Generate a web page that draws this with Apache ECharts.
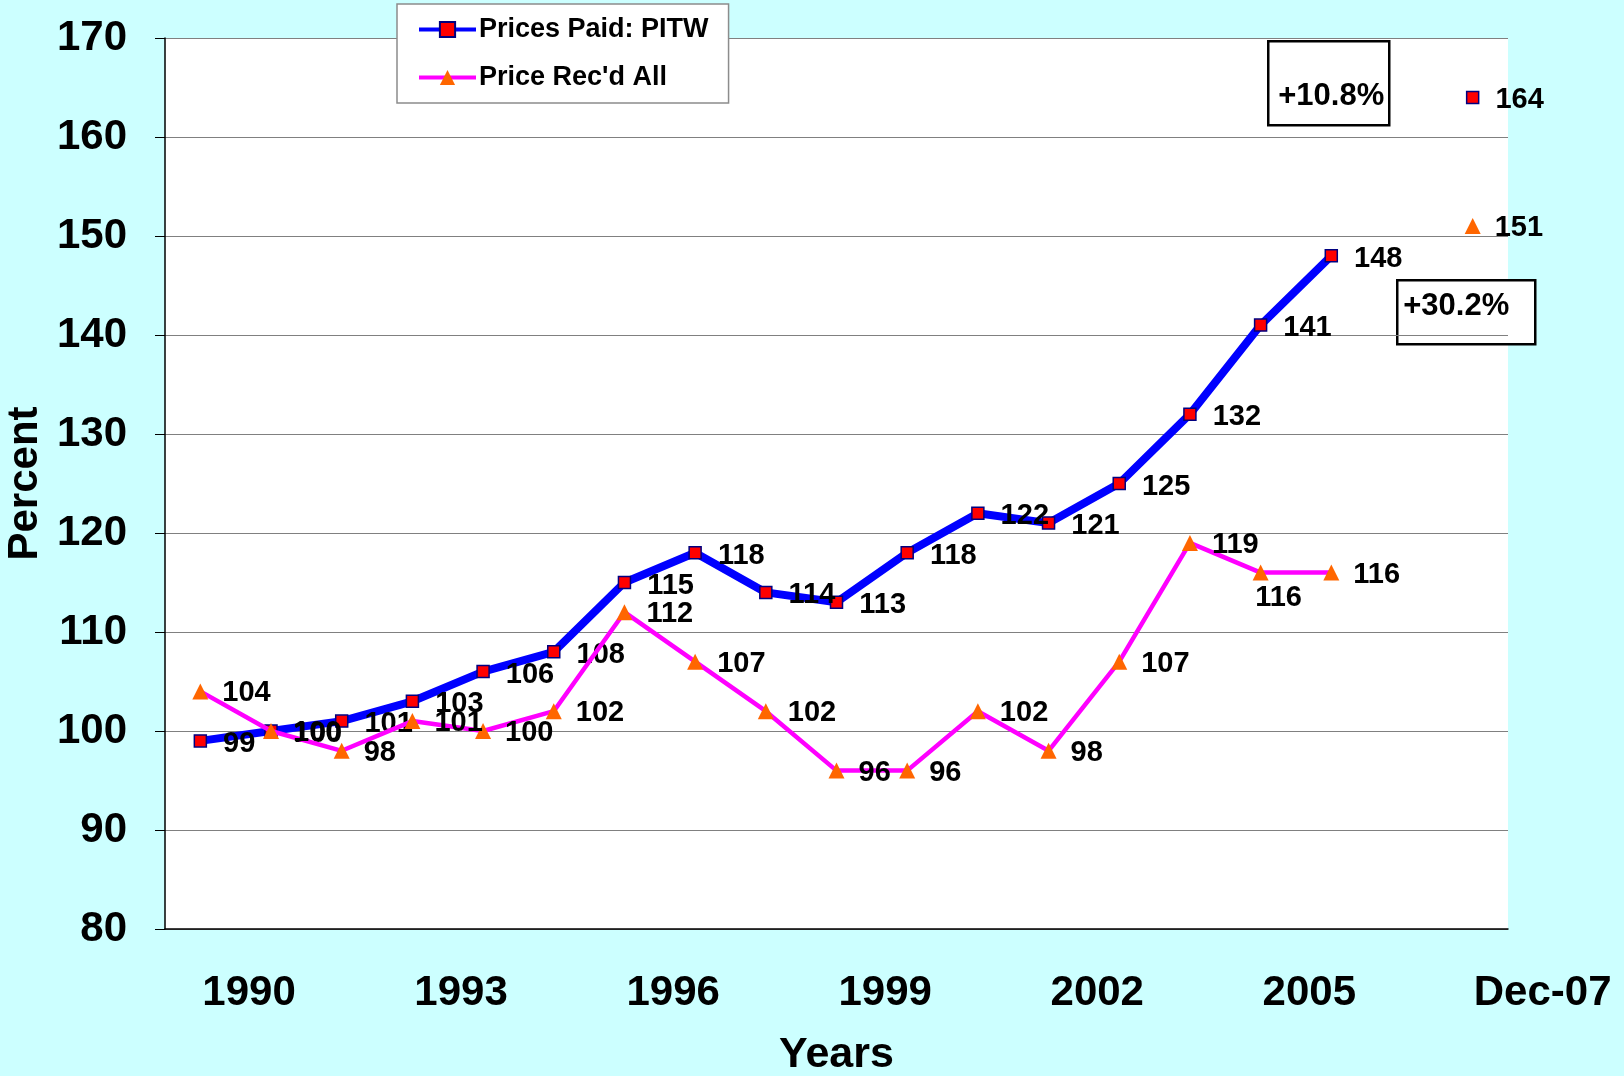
<!DOCTYPE html>
<html>
<head>
<meta charset="utf-8">
<script src="https://cdn.jsdelivr.net/npm/echarts@6/dist/echarts.min.js"></script>
<style>
  html, body { margin: 0; padding: 0; background: #ccffff; }
  #chart { width: 1624px; height: 1076px; }
</style>
</head>
<body>
<div id="chart"></div>
<script>
  // categories (2006 has no value, Dec-07 is the last point)
  var years = ['1989', '1990', '1991', '1992', '1993', '1994', '1995', '1996', '1997', '1998',
               '1999', '2000', '2001', '2002', '2003', '2004', '2005', '2006', 'Dec-07'];
  var pricesPaid = [99, 100, 101, 103, 106, 108, 115, 118, 114, 113, 118, 122, 121, 125, 132, 141, 148, null, 164];
  var pricesRecd = [104, 100, 98, 101, 100, 102, 112, 107, 102, 96, 96, 102, 98, 107, 119, 116, 116, null, 151];
  var shownLabels = [1, 4, 7, 10, 13, 16, 18];
  var yTicks = { min: 80, max: 170, step: 10 };

  var font = '"Liberation Sans", Arial, sans-serif';
  var chart = echarts.init(document.getElementById('chart'));

  // the 2004 received value has its label under the point
  var recdData = pricesRecd.map(function (v, i) {
    if (i === 15) {
      return { value: v, label: { position: 'bottom', distance: 3, offset: [18, 0] } };
    }
    return v;
  });

  var option = {
    backgroundColor: '#ccffff',
    animation: false,
    textStyle: { fontFamily: font },
    grid: {
      left: 165, right: 116, top: 38, bottom: 147,
      show: true, backgroundColor: '#ffffff', borderWidth: 0,
      outerBoundsMode: 'none'
    },
    legend: {
      orient: 'vertical',
      left: 397, top: 4,
      padding: [12, 20, 12, 20],
      itemGap: 21,
      itemWidth: 57, itemHeight: 19,
      backgroundColor: '#ffffff',
      borderColor: '#8c8c8c', borderWidth: 1.5,
      textStyle: { fontSize: 27, fontWeight: 'bold', color: '#000', lineHeight: 26,
                   fontFamily: font, padding: [0, 0, 0, -2] },
      data: [
        { name: 'Prices Paid: PITW', lineStyle: { width: 4 } },
        { name: "Price Rec'd All", lineStyle: { width: 4 } }
      ]
    },
    xAxis: {
      type: 'category',
      data: years,
      boundaryGap: true,
      name: 'Years',
      nameLocation: 'middle',
      nameGap: 105,
      nameTextStyle: { fontSize: 43, fontWeight: 'bold', color: '#000', fontFamily: font },
      axisLine: { lineStyle: { color: '#000', width: 1.5 } },
      axisTick: { interval: 0, length: 12, lineStyle: { color: '#000', width: 1 } },
      axisLabel: {
        interval: function (i) { return shownLabels.indexOf(i) >= 0; },
        margin: 43,
        formatter: function (v) {
          return v === 'Dec-07' ? '{r|' + v + '}' : '{l|' + v + '}';
        },
        rich: {
          l: { fontSize: 42, fontWeight: 'bold', color: '#000', fontFamily: font, padding: [0, 44, 0, 0] },
          r: { fontSize: 42, fontWeight: 'bold', color: '#000', fontFamily: font, padding: [0, 0, 0, 140] }
        }
      },
      splitLine: { show: false }
    },
    yAxis: {
      type: 'value',
      min: yTicks.min, max: yTicks.max, interval: yTicks.step,
      name: 'Percent',
      nameLocation: 'middle',
      nameRotate: 90,
      nameGap: 115,
      nameTextStyle: { fontSize: 42, fontWeight: 'bold', color: '#000', fontFamily: font },
      axisLine: { show: true, lineStyle: { color: '#000', width: 1.5 } },
      axisTick: { show: true, length: 10, lineStyle: { color: '#000', width: 1 } },
      axisLabel: { fontSize: 42, fontWeight: 'bold', color: '#000', margin: 38, fontFamily: font },
      splitLine: { show: true, lineStyle: { color: '#808080', width: 1.2 } }
    },
    series: [
      {
        name: 'Prices Paid: PITW',
        type: 'line',
        data: pricesPaid,
        connectNulls: false,
        symbol: 'rect',
        symbolSize: 12,
        showAllSymbol: true,
        lineStyle: { color: '#0000ff', width: 8 },
        itemStyle: { color: '#ff0000', borderColor: '#000080', borderWidth: 1.5 },
        label: {
          show: true, position: 'right', distance: 16, offset: [0, 3],
          fontSize: 29, fontWeight: 'bold', color: '#000', fontFamily: font
        },
        z: 2
      },
      {
        name: "Price Rec'd All",
        type: 'line',
        data: recdData,
        connectNulls: false,
        symbol: 'triangle',
        symbolSize: 16,
        showAllSymbol: true,
        lineStyle: { color: '#ff00ff', width: 4.5 },
        itemStyle: { color: '#ff6600', borderColor: '#ff6600', borderWidth: 0 },
        label: {
          show: true, position: 'right', distance: 14, offset: [0, 2],
          fontSize: 29, fontWeight: 'bold', color: '#000', fontFamily: font
        },
        z: 3
      }
    ],
    graphic: [
      {
        type: 'group', left: 1267, top: 40,
        children: [
          { type: 'rect', shape: { x: 0, y: 0, width: 121, height: 84 },
            style: { fill: '#ffffff', stroke: '#000', lineWidth: 2.5 } },
          { type: 'text', x: 10, y: 55,
            style: { text: '+10.8%', fontSize: 31, fontWeight: 'bold', fill: '#000',
                     fontFamily: font, textVerticalAlign: 'middle' } }
        ]
      },
      {
        type: 'group', left: 1396, top: 279,
        children: [
          { type: 'rect', shape: { x: 0, y: 0, width: 138, height: 64 },
            style: { fill: '#ffffff', stroke: '#000', lineWidth: 2.5 } },
          { type: 'text', x: 6, y: 26,
            style: { text: '+30.2%', fontSize: 31, fontWeight: 'bold', fill: '#000',
                     fontFamily: font, textVerticalAlign: 'middle' } }
        ]
      }
    ]
  };

  chart.setOption(option);
</script>
</body>
</html>
